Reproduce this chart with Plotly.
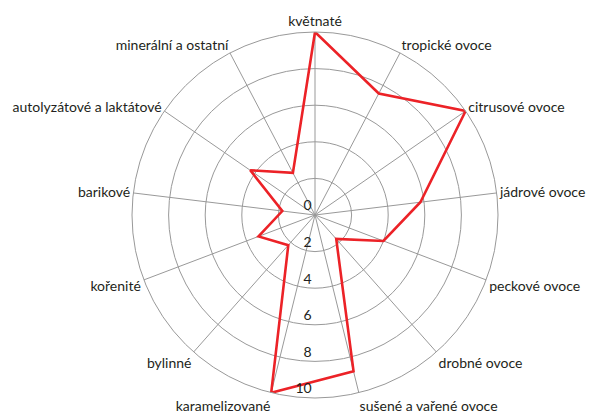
import plotly.graph_objects as go

categories = ["květnaté", "tropické ovoce", "citrusové ovoce", "jádrové ovoce",
              "peckové ovoce", "drobné ovoce", "sušené a vařené ovoce",
              "karamelizované", "bylinné", "kořenité", "barikové",
              "autolyzátové a laktátové", "minerální a ostatní"]
values = [10, 7.5, 10, 5.8, 4.0, 1.75, 8.8, 10, 2.2, 3.3, 1.8, 4.3, 2.6]
radial_ticks = [0, 2, 4, 6, 8, 10]

fig = go.Figure()
fig.add_trace(go.Scatterpolar(
    r=values + values[:1],
    theta=categories + categories[:1],
    mode="lines",
    line=dict(color="#ec2227", width=2.6),
    showlegend=False,
))

font = dict(family="Lato, Open Sans, sans-serif", size=14, color="#231f20")
fig.update_layout(
    width=586, height=403,
    margin=dict(l=124, r=96, t=24, b=13),
    paper_bgcolor="white",
    font=font,
    polar=dict(
        bgcolor="white",
        angularaxis=dict(
            direction="clockwise", rotation=90,
            showline=True, linecolor="#999999", linewidth=1,
            gridcolor="#999999", gridwidth=1,
            ticks="", tickfont=font,
        ),
        radialaxis=dict(
            range=[0, 10], tickvals=radial_ticks,
            ticktext=[f"{v}<br> " for v in radial_ticks],
            angle=-90, tickangle=-90, showline=False, ticks="",
            gridcolor="#999999", gridwidth=1,
            tickfont=font,
        ),
    ),
)
fig.write_html("out.html")
